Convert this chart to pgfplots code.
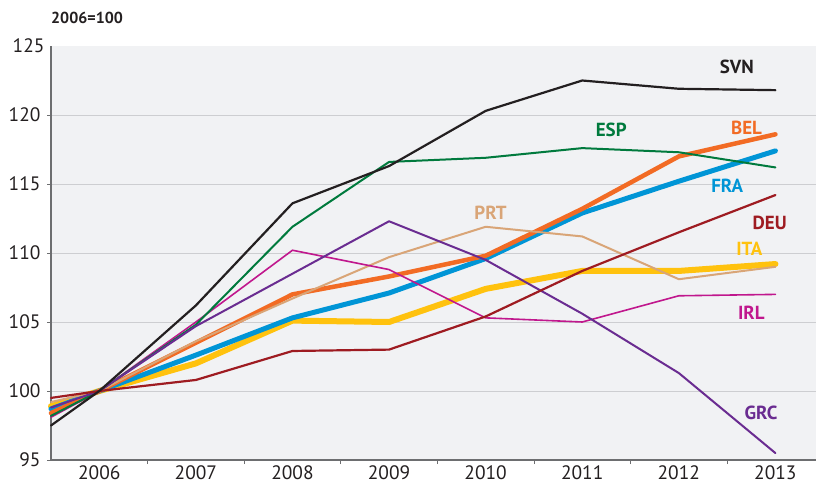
\documentclass[border=0pt]{standalone}
\usepackage{pgfplots}
\pgfplotsset{compat=1.18}
\usepackage{fontspec}
\setmainfont{PT Sans}

\definecolor{bgc}{HTML}{F1F2F4}
\definecolor{gridc}{HTML}{CDCED1}
\definecolor{axc}{HTML}{6D6E70}
\definecolor{txt}{HTML}{231F20}
\definecolor{svn}{HTML}{231F20}
\definecolor{esp}{HTML}{007A3D}
\definecolor{bel}{HTML}{F26B24}
\definecolor{fra}{HTML}{0095D6}
\definecolor{deu}{HTML}{9E1B21}
\definecolor{prt}{HTML}{D9A577}
\definecolor{ita}{HTML}{FFC20E}
\definecolor{irl}{HTML}{C0178D}
\definecolor{grc}{HTML}{6A2C91}

\begin{document}
\begin{tikzpicture}
\begin{axis}[
  width=765bp, height=414bp, scale only axis,
  xmin=2005.5, xmax=2013.42, ymin=95, ymax=125,
  clip=false,
  axis background/.style={fill=bgc},
  axis lines*=left,
  axis line style={axc, line width=1.3bp},
  ytick={95,100,...,120},
  extra y ticks={125},
  extra y tick style={grid=none, major tick length=0pt},
  ymajorgrids,
  grid style={gridc, line width=0.9bp},
  xtick={2006.5,2007.5,...,2012.5},
  xticklabels={},
  extra x ticks={2006,2007,...,2013},
  extra x tick style={major tick length=0pt, grid=none},
  major tick length=4bp,
  tick style={axc, line width=0.8bp},
  tick align=outside,
  /pgf/number format/1000 sep={},
  x tick label style={yshift=-2bp},
  tick label style={font=\fontsize{19.5}{22}\selectfont, text=txt},
  /pgf/number format/assume math mode=true,
  y tick label style={xshift=-3bp},
  every axis plot/.append style={line join=round, line cap=round},
]
% thick series
\addplot[ita, line width=6bp] coordinates {(2005.5,98.9) (2006,100) (2007,102.0) (2008,105.1) (2009,105.0) (2010,107.4) (2011,108.7) (2012,108.7) (2013,109.2)};
\addplot[fra, line width=5bp] coordinates {(2005.5,98.7) (2006,100) (2007,102.6) (2008,105.3) (2009,107.1) (2010,109.6) (2011,112.9) (2012,115.2) (2013,117.4)};
\addplot[bel, line width=4.5bp] coordinates {(2005.5,98.4) (2006,100) (2007,103.5) (2008,107.0) (2009,108.3) (2010,109.8) (2011,113.2) (2012,117.0) (2013,118.6)};
% thin series
\addplot[prt, line width=2bp] coordinates {(2005.5,99.2) (2006,100) (2007,103.6) (2008,106.7) (2009,109.7) (2010,111.9) (2011,111.2) (2012,108.1) (2013,109.0)};
\addplot[irl, line width=1.6bp] coordinates {(2005.5,98.1) (2006,100) (2007,105.0) (2008,110.2) (2009,108.8) (2010,105.3) (2011,105.0) (2012,106.9) (2013,107.0)};
\addplot[esp, line width=2bp] coordinates {(2005.5,98.2) (2006,100) (2007,104.8) (2008,111.9) (2009,116.6) (2010,116.9) (2011,117.6) (2012,117.3) (2013,116.2)};
\addplot[grc, line width=2bp] coordinates {(2005.5,98.8) (2006,100) (2007,104.7) (2008,108.5) (2009,112.3) (2010,109.5) (2011,105.6) (2012,101.3) (2013,95.5)};
\addplot[deu, line width=2.2bp] coordinates {(2005.5,99.5) (2006,100) (2007,100.8) (2008,102.9) (2009,103.0) (2010,105.4) (2011,108.7) (2012,111.5) (2013,114.2)};
\addplot[svn, line width=2.2bp] coordinates {(2005.5,97.5) (2006,100) (2007,106.2) (2008,113.6) (2009,116.3) (2010,120.3) (2011,122.5) (2012,121.9) (2013,121.8)};

\begin{scope}[every node/.style={font=\fontsize{19}{22}\selectfont\bfseries}]
\node[text=svn] at (axis cs:2012.6,123.5) {SVN};
\node[text=esp] at (axis cs:2011.3,118.9) {ESP};
\node[text=bel] at (axis cs:2012.7,119.1) {BEL};
\node[text=fra] at (axis cs:2012.5,114.9) {FRA};
\node[text=deu] at (axis cs:2012.94,112.2) {DEU};
\node[text=ita] at (axis cs:2012.73,110.3) {ITA};
\node[text=prt] at (axis cs:2010.05,112.9) {PRT};
\node[text=irl] at (axis cs:2012.75,105.7) {IRL};
\node[text=grc] at (axis cs:2012.85,98.4) {GRC};
\end{scope}
\node[anchor=base west, inner sep=0pt, text=txt, font=\fontsize{16}{18}\selectfont\bfseries]
  at ([yshift=22bp]rel axis cs:0,1) {2006=100};
\end{axis}
\pgfresetboundingbox
\path ([xshift=-51bp,yshift=-27bp]current axis.south west) rectangle ([yshift=46bp]current axis.north east);
\end{tikzpicture}
\end{document}
